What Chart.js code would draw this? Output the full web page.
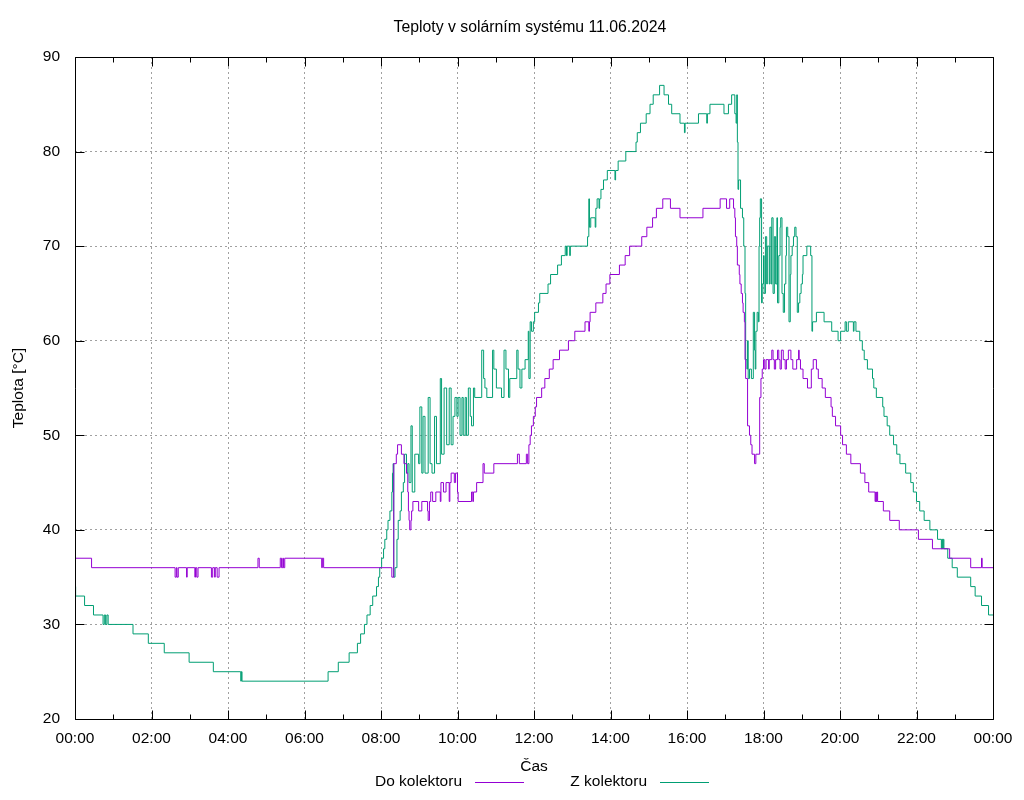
<!DOCTYPE html>
<html>
<head>
<meta charset="utf-8">
<title>Teploty v solárním systému 11.06.2024</title>
<script src="https://cdn.jsdelivr.net/npm/chart.js@4/dist/chart.umd.min.js"></script>
<style>
  body { margin: 0; background: #fff; }
  #chart { display: block; }
</style>
</head>
<body>
<canvas id="chart" width="1024" height="800"></canvas>
<script>
const chartTitle = 'Teploty v solárním systému 11.06.2024';
const seriesLabels = ['Do kolektoru', 'Z kolektoru'];
const xTitle = 'Čas';
const yTitle = 'Teplota [°C]';
const yTicks = [20, 30, 40, 50, 60, 70, 80, 90];
const xTickStep = 120; // minutes

// "Do kolektoru" - time at which the reading changes, and the new value
const doTimes = [
  '00:00','00:26','02:37','02:39','02:40','02:42','02:55','02:56','03:08','03:09',
  '03:11','03:13','03:34','03:36','03:39','03:40','03:43','03:46','04:47','04:49',
  '05:22','05:24','05:26','05:27','05:29','06:27','06:28','06:30','08:17','08:20',
  '08:24','08:26','08:32','08:36','08:40','08:42','08:43','08:44','08:45','08:47',
  '08:48','08:50','08:59','09:04','09:13','09:14','09:16','09:18','09:21','09:26',
  '09:33','09:34','09:38','09:42','09:47','09:48','09:50','09:55','09:57','10:00',
  '10:01','10:22','10:24','10:25','10:30','10:40','10:42','10:57','11:34','11:37',
  '11:48','11:50','11:52','11:54','11:56','11:59','12:02','12:04','12:12','12:17',
  '12:24','12:30','12:40','12:54','13:04','13:20','13:26','13:27','13:28','13:37',
  '13:48','13:53','13:59','14:14','14:23','14:30','14:49','14:57','15:06','15:12',
  '15:22','15:34','15:49','16:25','16:52','17:02','17:07','17:13','17:15','17:16',
  '17:18','17:19','17:22','17:23','17:25','17:27','17:28','17:30','17:31','17:32',
  '17:35','17:38','17:40','17:42','17:46','17:48','17:54','17:56','17:58','18:00',
  '18:02','18:04','18:08','18:09','18:13','18:15','18:17','18:19','18:22','18:24',
  '18:26','18:28','18:31','18:34','18:36','18:39','18:43','18:46','18:52','18:55',
  '18:56','18:58','19:02','19:09','19:15','19:18','19:23','19:26','19:32','19:37',
  '19:46','19:48','19:53','20:01','20:04','20:10','20:17','20:32','20:39','20:45',
  '20:55','20:56','20:57','20:58','20:59','21:08','21:18','21:33','22:03','22:25',
  '22:52','23:25','23:42','23:43','24:00'
];
const doValues = [
  37,36,35,36,35,36,35,36,35,36,
  35,36,35,36,35,36,35,36,37,36,
  37,36,37,36,37,36,37,36,35,47,
  48,49,48,47,46,44,42,41,40,41,
  42,43,42,43,42,41,43,44,43,44,
  43,45,44,45,43,45,46,45,46,44,
  43,44,43,44,45,47,46,47,48,47,
  48,47,49,50,51,52,53,54,55,56,
  57,58,59,60,61,62,61,62,63,64,
  65,66,67,68,69,70,71,72,73,74,
  75,74,73,74,75,74,75,74,73,71,
  70,68,67,66,65,64,63,62,58,56,
  51,50,49,48,47,48,54,56,57,58,
  57,58,57,58,59,58,57,58,59,58,
  57,59,58,57,58,59,58,57,58,59,
  58,57,56,55,57,58,57,56,55,54,
  53,52,51,50,49,48,47,46,45,44,
  43,44,43,44,43,42,41,40,39,38,
  37,36,37,36,36
];

// "Z kolektoru"
const zTimes = [
  '00:00','00:01','00:15','00:29','00:44','00:46','00:48','00:50','00:52','01:31',
  '01:55','02:20','02:59','03:37','04:20','04:21','04:22','06:37','06:53','07:10',
  '07:23','07:28','07:34','07:38','07:43','07:47','07:53','07:56','07:58','08:01',
  '08:04','08:06','08:09','08:11','08:14','08:17','08:18','08:19','08:20','08:22',
  '08:25','08:27','08:30','08:32','08:35','08:37','08:40','08:42','08:44','08:47',
  '08:49','08:53','08:59','09:01','09:04','09:06','09:09','09:14','09:17','09:20',
  '09:24','09:27','09:33','09:35','09:39','09:43','09:47','09:50','09:53','09:56',
  '09:59','10:01','10:04','10:07','10:09','10:12','10:14','10:17','10:20','10:22',
  '10:25','10:27','10:38','10:41','10:43','10:46','10:55','10:57','11:01','11:09',
  '11:13','11:16','11:20','11:22','11:33','11:35','11:38','11:41','11:46','11:51',
  '11:52','11:54','11:56','11:59','12:01','12:07','12:09','12:22','12:26','12:37',
  '12:43','12:49','12:51','12:52','12:56','12:57','13:24','13:26','13:27','13:29',
  '13:36','13:37','13:39','13:42','13:43','13:45','13:49','13:55','14:07','14:08',
  '14:12','14:24','14:40','14:42','14:47','14:56','15:02','15:07','15:17','15:24',
  '15:31','15:36','15:49','15:56','15:57','16:18','16:31','16:32','16:36','16:58',
  '17:05','17:10','17:15','17:17','17:18','17:19','17:20','17:21','17:24','17:27',
  '17:29','17:31','17:32','17:34','17:35','17:36','17:38','17:41','17:44','17:46',
  '17:47','17:48','17:50','17:52','17:53','17:54','17:55','17:57','17:58','18:00',
  '18:01','18:03','18:05','18:06','18:09','18:10','18:12','18:13','18:15','18:17',
  '18:19','18:21','18:22','18:24','18:26','18:27','18:29','18:31','18:33','18:35',
  '18:36','18:38','18:40','18:42','18:43','18:45','18:47','18:49','18:51','18:53',
  '18:55','18:57','18:59','19:01','19:02','19:08','19:14','19:16','19:17','19:23',
  '19:35','19:47','19:57','20:01','20:08','20:10','20:13','20:21','20:22','20:25',
  '20:31','20:35','20:38','20:43','20:51','20:53','20:57','21:07','21:09','21:14',
  '21:18','21:24','21:29','21:34','21:43','21:51','21:55','22:00','22:05','22:12',
  '22:21','22:33','22:39','22:40','22:41','22:42','22:43','22:49','22:56','23:04',
  '23:25','23:32','23:42','23:53','24:00'
];
const zValues = [
  34,33,32,31,30,31,30,31,30,29,
  28,27,26,25,24,25,24,25,26,27,
  28,29,30,31,32,33,34,35,36,37,
  38,39,40,41,42,44,46,47,35,36,
  39,41,42,44,45,48,46,47,45,51,
  44,48,47,53,46,52,46,54,47,46,
  52,47,56,48,55,49,55,49,52,54,
  52,54,50,54,50,54,50,55,52,51,
  55,54,59,56,55,54,59,57,55,54,
  59,57,54,56,59,57,55,57,58,61,
  56,62,61,62,63,64,65,66,67,68,
  69,70,69,70,69,70,71,75,72,73,
  72,74,75,74,75,76,77,78,77,78,
  79,80,81,82,83,84,85,86,87,86,
  85,84,83,82,83,84,83,84,85,84,
  85,86,84,83,86,81,76,77,74,73,
  70,65,58,57,60,56,57,56,63,59,
  57,61,63,62,70,73,75,64,66,69,
  65,71,66,70,66,72,66,73,65,71,
  66,73,64,69,72,73,65,63,66,69,
  72,71,62,67,69,70,71,72,71,63,
  64,65,66,67,69,70,69,61,62,63,
  62,61,60,61,62,61,62,61,62,61,
  60,59,58,57,56,55,54,53,52,51,
  50,49,48,47,46,45,44,43,42,41,
  40,39,38,39,38,39,38,37,36,35,
  34,33,32,31,31
];

const seriesColors = ['#9400d3', '#009e73'];
const FONT = { family: "'Liberation Sans', Arial, sans-serif", size: 15.5 };

function toMinutes(t) {
  const [h, m] = t.split(':').map(Number);
  return h * 60 + m;
}

function fmtTime(v) {
  const h = Math.floor(v / 60) % 24;
  const m = v % 60;
  return String(h).padStart(2, '0') + ':' + String(m).padStart(2, '0');
}

function toPoints(times, values) {
  return times.map((t, i) => ({ x: toMinutes(t), y: values[i] }));
}

// gnuplot-like frame with inward ticks, title above and legend below the axis title
const gnuplotFrame = {
  id: 'gnuplotFrame',
  afterDraw(chart) {
    const { ctx, chartArea: a, scales: { x, y } } = chart;
    const L = Math.round(a.left) + 0.5, R = Math.round(a.right) + 0.5;
    const T = Math.round(a.top) + 0.5, B = Math.round(a.bottom) + 0.5;
    ctx.save();
    ctx.strokeStyle = '#000';
    ctx.lineWidth = 1;
    ctx.beginPath();
    ctx.rect(L, T, R - L, B - T);
    for (let m = 0; m <= 1440; m += 60) {
      const px = Math.round(x.getPixelForValue(m)) + 0.5;
      const len = m % xTickStep === 0 ? 9 : 5;
      ctx.moveTo(px, B); ctx.lineTo(px, B - len);
      ctx.moveTo(px, T); ctx.lineTo(px, T + len);
    }
    yTicks.forEach(v => {
      const py = Math.round(y.getPixelForValue(v)) + 0.5;
      ctx.moveTo(L, py); ctx.lineTo(L + 9, py);
      ctx.moveTo(R, py); ctx.lineTo(R - 9, py);
    });
    ctx.stroke();

    ctx.fillStyle = '#000';
    ctx.textBaseline = 'middle';

    // title, centred a little right of the canvas middle as gnuplot does
    ctx.font = '15.8px ' + FONT.family;
    ctx.textAlign = 'center';
    ctx.fillText(chartTitle, (a.left + a.right) / 2 - 4, 28);

    // legend: text first, then line sample (gnuplot style)
    ctx.font = FONT.size + 'px ' + FONT.family;
    ctx.textAlign = 'right';
    const ly = 782;
    const slots = [462, 647];
    chart.data.datasets.forEach((ds, i) => {
      const tx = slots[i];
      ctx.fillText(ds.label, tx, ly);
      ctx.strokeStyle = ds.borderColor;
      ctx.beginPath();
      ctx.moveTo(tx + 13, ly + 0.5);
      ctx.lineTo(tx + 62, ly + 0.5);
      ctx.stroke();
    });
    ctx.restore();
  }
};

new Chart(document.getElementById('chart').getContext('2d'), {
  type: 'line',
  data: {
    datasets: [
      {
        label: seriesLabels[0],
        data: toPoints(doTimes, doValues),
        borderColor: seriesColors[0],
        borderWidth: 1,
        pointRadius: 0,
        stepped: true,
        fill: false
      },
      {
        label: seriesLabels[1],
        data: toPoints(zTimes, zValues),
        borderColor: seriesColors[1],
        borderWidth: 1,
        pointRadius: 0,
        stepped: true,
        fill: false
      }
    ]
  },
  options: {
    responsive: false,
    animation: false,
    devicePixelRatio: 1,
    layout: { padding: { left: 0, right: 31, top: 57, bottom: 0 } },
    plugins: {
      legend: { display: false },
      tooltip: { enabled: false },
      title: { display: false }
    },
    scales: {
      x: {
        type: 'linear',
        min: 0,
        max: 1440,
        afterFit: s => { s.height = 81; },
        ticks: {
          stepSize: xTickStep,
          color: '#000',
          font: FONT,
          padding: 10,
          maxRotation: 0,
          autoSkip: false,
          callback: v => fmtTime(v)
        },
        grid: { color: '#a0a0a0', lineWidth: 1, drawTicks: false },
        border: { display: false, dash: [2, 3] },
        title: {
          display: true,
          text: xTitle,
          color: '#000',
          font: { ...FONT, lineHeight: 1.2 },
          padding: { top: 0, bottom: 23.7 }
        }
      },
      y: {
        min: 20,
        max: 90,
        afterFit: s => { s.width = 75; },
        afterBuildTicks: s => { s.ticks = yTicks.map(v => ({ value: v })); },
        ticks: { color: '#000', font: FONT, padding: 15 },
        grid: { color: '#a0a0a0', lineWidth: 1, drawTicks: false },
        border: { display: false, dash: [2, 3] },
        title: {
          display: true,
          text: yTitle,
          color: '#000',
          font: { ...FONT, lineHeight: 1.2 },
          padding: { top: 9.7, bottom: 0 }
        }
      }
    }
  },
  plugins: [gnuplotFrame]
});
</script>
</body>
</html>
